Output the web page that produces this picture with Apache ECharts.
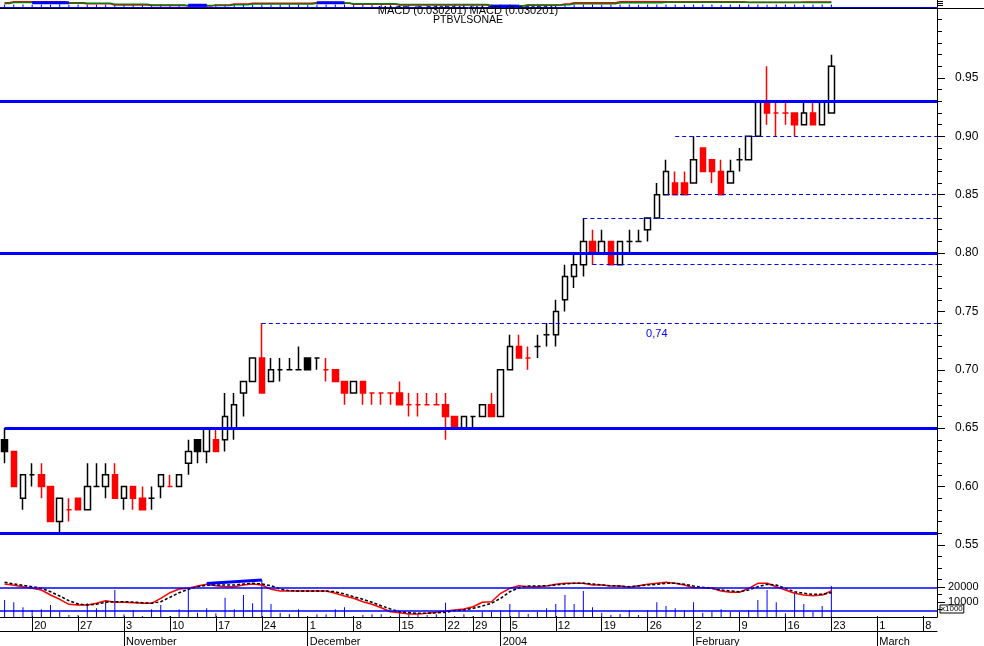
<!DOCTYPE html>
<html>
<head>
<meta charset="utf-8">
<title>PTBVLSONAE</title>
<script src="https://cdn.jsdelivr.net/npm/echarts@6.0.0/dist/echarts.min.js"></script>
<style>
html,body{margin:0;padding:0;background:#ffffff;}
#chart{width:984px;height:646px;}
</style>
</head>
<body>
<div id="chart"></div>
<script>
// ---------------- sessions (trading days) ----------------
const octDays2003 = [15,16,17,20,21,22,23,24,27,28,29,30,31];
const novDays2003 = [3,4,5,6,7,10,11,12,13,14,17,18,19,20,21,24,25,26,27,28];
const decDays2003 = [1,2,3,4,5,8,9,10,11,12,15,16,17,18,19,22,23,24,29,30,31];
const janDays2004 = [2,5,6,7,8,9,12,13,14,15,16,19,20,21,22,23,26,27,28,29,30];
const febDays2004 = [2,3,4,5,6,9,10,11,12,13,16,17,18,19,20,23];
const futureFebDays2004 = [24,25,26,27];
const futureMarDays2004 = [1,2,3,4,5,8,9];
const monthNames = ['January','February','March','April','May','June','July','August','September','October','November','December'];

// ---------------- price data (OHLC) ----------------
const opens = [
 .64,.63,.59,.61,.61,.60,.57,.58,.59,.58,
 .60,.60,.61,.59,.60,.59,.59,.60,.60,.60,
 .62,.64,.63,.64,.64,.65,.68,.69,.71,.69,
 .70,.70,.70,.71,.71,.70,.70,.69,.68,.69,
 .68,.68,.68,.68,.67,.67,.67,.67,.67,.66,
 .65,.66,.66,.67,.66,.70,.72,.71,.72,.73,
 .73,.76,.78,.79,.81,.80,.81,.79,.81,.81,
 .82,.83,.85,.86,.86,.86,.89,.88,.87,.86,
 .88,.88,.90,.93,.92,.92,.92,.91,.92,.91,
 .92];
const closes = [
 .63,.60,.61,.61,.60,.57,.59,.58,.58,.60,
 .60,.61,.59,.60,.59,.58,.59,.61,.60,.61,
 .63,.63,.65,.63,.66,.67,.69,.71,.68,.70,
 .70,.70,.70,.70,.71,.70,.69,.68,.69,.68,
 .68,.68,.68,.67,.67,.67,.67,.67,.66,.65,
 .66,.66,.67,.66,.70,.72,.71,.71,.72,.73,
 .75,.78,.79,.81,.80,.81,.79,.81,.81,.81,
 .83,.85,.87,.85,.85,.88,.87,.87,.85,.87,
 .88,.90,.93,.92,.92,.92,.91,.92,.91,.93,
 .96];
const lows = [
 .62,.60,.58,.60,.59,.57,.56,.57,.58,.58,
 .60,.59,.59,.58,.58,.58,.58,.59,.60,.60,
 .61,.62,.62,.63,.63,.64,.66,.69,.68,.69,
 .69,.70,.70,.70,.70,.69,.69,.67,.68,.67,
 .67,.67,.67,.67,.66,.66,.67,.67,.64,.65,
 .65,.65,.66,.66,.66,.70,.71,.70,.71,.72,
 .72,.75,.77,.78,.79,.80,.79,.79,.80,.81,
 .81,.83,.85,.85,.85,.86,.87,.86,.85,.86,
 .87,.88,.90,.91,.90,.91,.90,.91,.91,.91,
 .92];
const highs = [
 .65,.63,.61,.62,.62,.60,.59,.59,.59,.62,
 .62,.62,.62,.60,.60,.60,.60,.61,.61,.61,
 .64,.64,.65,.65,.68,.68,.69,.71,.74,.71,
 .71,.71,.72,.71,.71,.71,.70,.69,.69,.69,
 .68,.68,.68,.69,.68,.68,.68,.68,.68,.66,
 .66,.66,.67,.68,.70,.73,.73,.72,.73,.74,
 .76,.79,.80,.83,.82,.82,.81,.81,.82,.82,
 .83,.86,.88,.87,.87,.90,.89,.88,.88,.88,
 .89,.90,.93,.96,.93,.93,.92,.93,.93,.93,
 .97];

// ---------------- volume ----------------
const volumes = [
 11300,9800,6500,4700,5100,8000,3500,1300,1300,9100,
 5800,10200,18000,1800,4700,700,5100,8000,700,5100,
 19100,2900,5800,2500,12900,5100,14700,9100,24700,8700,
 2900,2000,5100,300,1800,1800,5100,6500,300,1300,
 1800,1800,600,3500,1800,1800,1300,1800,9500,700,
 1800,700,3500,3500,4700,8700,3500,2000,3500,5800,
 8700,14700,8700,17300,6500,2900,1300,2000,4700,1300,
 4700,9800,7300,5800,4700,9800,2900,3500,5100,3500,
 3500,4700,11300,18000,9800,2500,15800,8700,3500,7300,
 20700];

// ---------------- MACD / signal ----------------
const macdLine = [
 0.016,0.0147,0.0133,0.0117,0.010,0.005,0.0007,-0.0043,-0.005,-0.005,
 -0.0033,-0.0007,-0.0023,-0.0023,-0.0027,-0.0033,-0.0033,0.0017,0.0073,0.011,
 0.0117,0.014,0.0157,0.0143,0.0133,0.0133,0.015,0.016,0.015,0.0107,
 0.009,0.009,0.009,0.009,0.009,0.009,0.0067,0.004,0.0017,-0.0017,
 -0.0043,-0.0077,-0.0117,-0.0127,-0.014,-0.014,-0.0133,-0.0123,-0.011,-0.010,
 -0.009,-0.0067,-0.0023,-0.0017,0.0067,0.0117,0.0143,0.0133,0.0133,0.014,
 0.0157,0.0167,0.0167,0.0167,0.015,0.015,0.014,0.014,0.0127,0.0143,
 0.0157,0.0167,0.0177,0.0167,0.015,0.0123,0.0123,0.0117,0.009,0.0077,
 0.0077,0.0117,0.0167,0.0167,0.0133,0.010,0.0067,0.005,0.0043,0.005,
 0.009];
const signalLine = [
 0.0177,0.016,0.0147,0.0133,0.0117,0.0083,0.004,-0.0007,-0.004,-0.005,
 -0.0043,-0.0023,-0.0017,-0.0017,-0.002,-0.0027,-0.0033,-0.0017,0.0027,0.0073,
 0.0107,0.0133,0.0147,0.015,0.015,0.015,0.016,0.0167,0.016,0.0143,
 0.011,0.0093,0.009,0.009,0.009,0.009,0.0083,0.006,0.0033,0.0007,
 -0.0023,-0.0057,-0.009,-0.0117,-0.0127,-0.0133,-0.0133,-0.0127,-0.0123,-0.0107,
 -0.010,-0.0083,-0.006,-0.0033,0.0017,0.0083,0.0123,0.014,0.014,0.0143,
 0.015,0.016,0.0167,0.0167,0.016,0.015,0.0143,0.014,0.0133,0.014,
 0.015,0.0157,0.0167,0.0167,0.0157,0.014,0.0127,0.0117,0.010,0.009,
 0.0083,0.010,0.0133,0.0157,0.015,0.0117,0.0083,0.0067,0.0057,0.0057,
 0.0073];
const macdLevels = [0.012, -0.011];
const macdTrend = [['2003-11-14', 0.0165], ['2003-11-24', 0.020]];

// ---------------- top strip indicator ----------------
const stripK = [
 4.3,5.3,5.3,5.3,5.3,5.3,5,3.7,3.7,3.3,
 3.3,3.3,2,2,2,2,1.5,1.5,1.5,1.5,
 1,1,1,2,2,3,3,3.7,3.7,3.7,
 3.7,3.7,3.7,3.7,4.5,4.5,4.5,3.7,2.8,2.8,
 2.8,2.8,2.8,2,2,2,2,2,2,2,
 2,2,2,1,1,1,1.3,2,2,2,
 2,3,4.3,4.3,4.3,4.3,4.3,5.3,5.3,5.3,
 5.3,5.3,5.3,5.3,5.3,5.3,5.3,5.3,5.3,5.3,
 5.3,4.5,4.5,4.5,4.5,4.5,4.5,5,5,5,
 5];
const stripD = [
 3.5,4.5,4.5,4.5,4.5,4.5,4.8,4.3,4.3,3.7,
 3.7,3.7,2.7,2.7,2.7,2.7,2,2,2,2,
 1.5,1.5,1.5,1.5,1.5,2.3,2.3,3,3,3,
 3,3,3,3,3.8,3.8,3.8,4,3.3,3.3,
 3.3,3.3,3.3,2.5,2.5,2.5,2.5,2.5,2.5,2.5,
 2.5,2.5,2.5,1.5,1.5,1.5,1.3,1.7,1.7,1.7,
 1.7,2.3,3.3,3.3,3.3,3.3,3.3,4.3,4.3,4.3,
 4.3,4.3,4.8,4.8,4.8,4.8,4.8,4.8,4.8,4.8,
 4.8,4.8,4.8,4.8,4.8,4.8,4.8,4.5,4.5,4.5,
 4.5];
const stripTicks = [
 2.6,2.4,2.6,2.2,2.6,2.4,2.7,2.2,2.5,2.6,
 2.3,2.6,2.4,2.6,2.2,2.5,2.6,2.4,2.6,2.3,
 2.6,2.5,2.4,2.6,2.2,2.6,2.4,2.6,2.5,2.3,
 2.6,2.4,2.6,2.2,2.6,2.5,2.4,2.6,2.3,2.6,
 2.4,2.6,2.2,2.6,2.5,2.4,2.6,2.3,2.6,2.4,
 2.6,2.2,2.6,2.5,2.4,2.6,2.3,2.6,2.4,2.6,
 2.2,2.6,2.5,2.4,2.6,2.3,2.6,2.4,2.6,2.2,
 2.6,2.5,2.4,2.6,2.3,2.6,2.4,2.6,2.2,2.6,
 2.5,2.4,2.6,2.3,2.6,2.4,2.6,2.2,2.6,2.5,
 2.4];
const stripBlocks = [
 ['2003-10-20','2003-10-24',4.2],
 ['2003-11-12','2003-11-14',1.7],
 ['2003-12-02','2003-12-05',4.2],
 ['2003-12-31','2004-01-06',0.8]
];

// ---------------- annotations ----------------
const solidLevels = [
 {price:0.93}, {price:0.80}, {price:0.65, from:'2003-10-15'}, {price:0.56}
];
const dashedLevels = [
 {price:0.74, from:'2003-11-24'},
 {price:0.90, from:'2004-01-29'},
 {price:0.85, from:'2004-01-28'},
 {price:0.83, from:'2004-01-15'},
 {price:0.79, from:'2004-01-16'}
];
const levelLabel = {price:0.74, at:'2004-01-27'};

// ---------------- axis tick values ----------------
const priceTicks = [0.55,0.60,0.65,0.70,0.75,0.80,0.85,0.90,0.95];
const priceMinorTicks = [];
for (let k = 53; k <= 100; k++) { if (k % 5 !== 0 || k === 100) priceMinorTicks.push(k/100); }
const volumeTicks = [10000, 20000];
const volumeMinorTicks = [5000, 15000, 25000];
const stripAxisTicks = [1.5, 3.5, 5.5];

// ---------------- build session list ----------------
const pad = n => (n < 10 ? '0' : '') + n;
const sessions = [];
function addMonth(y, m, days) { days.forEach(d => sessions.push({y, m, d, key: y + '-' + pad(m) + '-' + pad(d)})); }
addMonth(2003,10,octDays2003); addMonth(2003,11,novDays2003); addMonth(2003,12,decDays2003);
addMonth(2004,1,janDays2004); addMonth(2004,2,febDays2004);
addMonth(2004,2,futureFebDays2004); addMonth(2004,3,futureMarDays2004);
const idxOf = key => sessions.findIndex(s => s.key === key);
const xMin = -0.5, xMax = sessions.length - 0.5;

const mondayIdx = [];
const monthStartIdx = [];
sessions.forEach((s, i) => {
  if (new Date(s.y, s.m - 1, s.d).getDay() === 1) mondayIdx.push(i);
  if (i > 0 && sessions[i-1].m !== s.m) monthStartIdx.push(i);
});
const monthLabel = i => { const s = sessions[i]; return s.m === 1 ? String(s.y) : monthNames[s.m - 1]; };

// ---------------- styles ----------------
const FONT = 'Liberation Sans, Arial, Helvetica, sans-serif';
const BLUE = '#0000ff', RED = '#ff0000', BLACK = '#000000', WHITE = '#ffffff';

let dir = 1;
const candleData = opens.map((o, i) => {
  const c = closes[i];
  if (i > 0) { if (c > closes[i-1]) dir = 1; else if (c < closes[i-1]) dir = -1; }
  let line, fill;
  if (c > o) { line = BLACK; fill = WHITE; }
  else if (dir < 0) { line = RED; fill = RED; }
  else { line = BLACK; fill = BLACK; }
  return {
    value: [i, o, c, lows[i], highs[i]],
    itemStyle: {color: fill, color0: fill, borderColor: line, borderColor0: line, borderColorDoji: line}
  };
});

const priceMarkLines = [];
solidLevels.forEach(l => {
  const start = l.from ? idxOf(l.from) : xMin;
  priceMarkLines.push([{coord:[start, l.price], lineStyle:{color:BLUE, width:3, type:'solid'}}, {coord:[xMax, l.price]}]);
});
dashedLevels.forEach(l => {
  priceMarkLines.push([{coord:[idxOf(l.from), l.price], lineStyle:{color:BLUE, width:1, type:[4,3]}}, {coord:[xMax, l.price]}]);
});

const blockData = [];
stripBlocks.forEach(b => {
  for (let i = idxOf(b[0]); i <= idxOf(b[1]); i++) blockData.push([i, b[2]]);
  blockData.push([idxOf(b[1]) + 0.5, null]);
});

const hiddenX = (grid, pos, extra) => Object.assign({
  type:'value', gridIndex:grid, position:pos, min:xMin, max:xMax,
  axisLine:{show:false, onZero:false}, axisTick:{show:false}, axisLabel:{show:false}, splitLine:{show:false}
}, extra || {});

const chart = echarts.init(document.getElementById('chart'), null, {renderer:'canvas'});
const option = {
  animation: false,
  backgroundColor: WHITE,
  title: [
    {text:'MACD (0.030201) MACD (0.030201)', left:468, top:5, textAlign:'center', padding:0,
     textStyle:{fontSize:11, fontWeight:'normal', color:BLACK, fontFamily:FONT}},
    {text:'PTBVLSONAE', left:468, top:15, textAlign:'center', padding:0,
     textStyle:{fontSize:10.5, fontWeight:'normal', color:BLACK, fontFamily:FONT}}
  ],
  grid: [
    {left:0, width:937, top:0, height:7},
    {left:0, width:937, top:8, height:566},
    {left:0, width:937, top:574, height:43},
    {left:0, width:937, top:617, height:15}
  ],
  xAxis: [
    hiddenX(0, 'bottom', {axisLine:{show:true, onZero:false, lineStyle:{color:BLUE, width:1}}}),
    hiddenX(1, 'top', {axisLine:{show:true, onZero:false, lineStyle:{color:BLACK, width:1}}}),
    hiddenX(2, 'bottom'),
    hiddenX(3, 'bottom', {
      axisLine:{show:true, onZero:false, lineStyle:{color:BLACK, width:1}},
      axisTick:{show:true, inside:true, length:15, customValues:mondayIdx, lineStyle:{color:BLACK, width:1}},
      axisLabel:{show:true, inside:true, customValues:mondayIdx, formatter:v => String(sessions[Math.round(v)].d),
        align:'left', verticalAlign:'middle', margin:5.5, fontSize:11, color:BLACK, fontFamily:FONT, padding:[0,0,0,2]}
    }),
    hiddenX(3, 'top', {
      axisLine:{show:true, onZero:false, lineStyle:{color:BLACK, width:1}},
      axisTick:{show:true, inside:true, length:29, customValues:monthStartIdx, lineStyle:{color:BLACK, width:1}},
      axisLabel:{show:true, inside:true, customValues:monthStartIdx, formatter:v => monthLabel(Math.round(v)),
        align:'left', verticalAlign:'middle', margin:24.5, fontSize:11, color:BLACK, fontFamily:FONT, padding:[0,0,0,2]}
    })
  ],
  yAxis: [
    {type:'value', gridIndex:0, position:'right', min:0, max:7,
     axisLine:{show:true, onZero:false, lineStyle:{color:BLACK}}, axisTick:{show:true, length:6, customValues:stripAxisTicks, lineStyle:{color:BLACK}},
     axisLabel:{show:false}, splitLine:{show:false}},
    {type:'value', gridIndex:1, position:'right', min:0.525, max:1.01,
     axisLine:{show:true, onZero:false, lineStyle:{color:BLACK}},
     axisTick:{show:true, length:8, customValues:priceTicks, lineStyle:{color:BLACK}},
     axisLabel:{show:true, customValues:priceTicks, formatter:v => v.toFixed(2), margin:18, fontSize:12, color:BLACK, fontFamily:FONT},
     splitLine:{show:false}},
    {type:'value', gridIndex:1, position:'right', min:0.525, max:1.01,
     axisLine:{show:false, onZero:false},
     axisTick:{show:true, length:5, customValues:priceMinorTicks, lineStyle:{color:BLACK}},
     axisLabel:{show:false}, splitLine:{show:false}},
    {type:'value', gridIndex:2, position:'right', min:0, max:28667,
     axisLine:{show:true, onZero:false, lineStyle:{color:BLACK}},
     axisTick:{show:true, length:8, customValues:volumeTicks, lineStyle:{color:BLACK}},
     axisLabel:{show:true, customValues:volumeTicks, formatter:v => String(v), margin:11, fontSize:11, color:BLACK, fontFamily:FONT},
     splitLine:{show:false}},
    {type:'value', gridIndex:2, position:'right', min:0, max:28667,
     axisLine:{show:false, onZero:false},
     axisTick:{show:true, length:5, customValues:volumeMinorTicks, lineStyle:{color:BLACK}},
     axisLabel:{show:false}, splitLine:{show:false}},
    {type:'value', gridIndex:2, position:'right', min:-0.017, max:0.026, show:false, axisLine:{onZero:false}},
    {type:'value', gridIndex:3, position:'right', min:0, max:1, show:false, axisLine:{onZero:false}}
  ],
  graphic: [
    {type:'line', shape:{x1:937, y1:8.5, x2:984, y2:8.5}, style:{stroke:BLACK, lineWidth:1}, silent:true},
    {type:'text', x:940, y:605, silent:true,
     style:{text:'x1000', fontSize:8, fontFamily:FONT, fill:BLACK, borderColor:BLACK, borderWidth:1, padding:[0,1,0,1]}}
  ],
  series: [
    {name:'strip ticks', type:'bar', xAxisIndex:0, yAxisIndex:0, barWidth:1,
     data: stripTicks.map((v,i)=>[i,v]), itemStyle:{color:BLUE}, silent:true},
    {name:'strip K', type:'line', xAxisIndex:0, yAxisIndex:0, step:'middle', showSymbol:false,
     data: stripK.map((v,i)=>[i,v]), lineStyle:{color:RED, width:1.5}, silent:true},
    {name:'strip D', type:'line', xAxisIndex:0, yAxisIndex:0, step:'middle', showSymbol:false,
     data: stripD.map((v,i)=>[i,v]), lineStyle:{color:'#008000', width:1.5}, silent:true},
    {name:'strip blocks', type:'line', xAxisIndex:0, yAxisIndex:0, showSymbol:false, connectNulls:false,
     data: blockData, lineStyle:{color:BLUE, width:3}, silent:true},
    {name:'PTBVLSONAE', type:'candlestick', xAxisIndex:1, yAxisIndex:1, barWidth:6,
     data: candleData,
     itemStyle:{borderWidth:1.5},
     markLine:{silent:true, symbol:['none','none'], label:{show:false}, animation:false, data: priceMarkLines},
     markPoint:{silent:true, symbol:'circle', symbolSize:1, itemStyle:{color:'rgba(0,0,0,0)'},
       label:{show:true, position:'inside', offset:[0,11], color:BLUE, fontSize:11, fontFamily:FONT,
              formatter: () => String(levelLabel.price.toFixed(2)).replace('.', ',')},
       data:[{coord:[idxOf(levelLabel.at), levelLabel.price]}]}
    },
    {name:'Volume', type:'bar', xAxisIndex:2, yAxisIndex:3, barWidth:1,
     data: volumes.map((v,i)=>[i,v]), itemStyle:{color:BLUE}, silent:true},
    {name:'MACD', type:'line', xAxisIndex:2, yAxisIndex:5, showSymbol:false,
     data: macdLine.map((v,i)=>[i,v]), lineStyle:{color:RED, width:1.5}, silent:true,
     markLine:{silent:true, symbol:['none','none'], label:{show:false}, lineStyle:{color:BLUE, width:1.5, type:'solid'},
       data: macdLevels.map(v => [{coord:[xMin, v]}, {coord:[xMax, v]}])}},
    {name:'Signal', type:'line', xAxisIndex:2, yAxisIndex:5, showSymbol:false,
     data: signalLine.map((v,i)=>[i,v]), lineStyle:{color:BLACK, width:1.5, type:[3,2]}, silent:true},
    {name:'MACD trend', type:'line', xAxisIndex:2, yAxisIndex:5, showSymbol:false,
     data: macdTrend.map(p => [idxOf(p[0]), p[1]]), lineStyle:{color:BLUE, width:3}, silent:true}
  ]
};
chart.setOption(option);
</script>
</body>
</html>
